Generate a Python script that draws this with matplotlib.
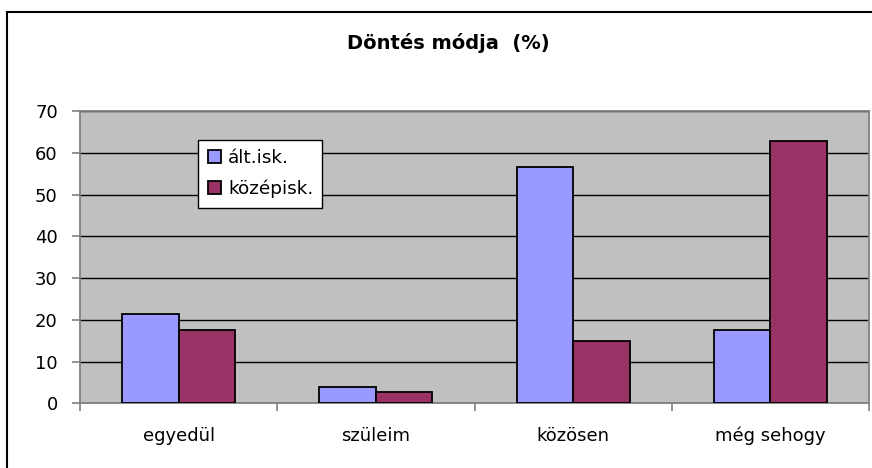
import matplotlib.pyplot as plt
import numpy as np
from matplotlib.patches import Rectangle

# Data
categories = ["egyedül", "szüleim", "közösen", "még sehogy"]
series_names = ["ált.isk.", "középisk."]
alt_isk = [21.5, 4.0, 56.7, 17.6]
kozepisk = [17.6, 2.6, 15.0, 62.9]
colors = ["#9999FF", "#993366"]

plt.rcParams['font.family'] = ['DejaVu Sans']

fig = plt.figure(figsize=(8.72, 4.68), dpi=100)
ax = fig.add_axes([80 / 872, 1 - 403.3 / 468, 789 / 872, 292.3 / 468])

# outer chart frame (only top and left edges are visible in the picture)
fig.patches.append(Rectangle((7 / 872, -0.5), 2, 0.5 + (468 - 12) / 468,
                             transform=fig.transFigure, fill=False,
                             edgecolor='black', linewidth=1.5))

x = np.arange(len(categories))
w = 0.286
ax.bar(x - w / 2, alt_isk, w, color=colors[0], edgecolor='black',
       linewidth=1.3, label=series_names[0], zorder=3)
ax.bar(x + w / 2, kozepisk, w, color=colors[1], edgecolor='black',
       linewidth=1.3, label=series_names[1], zorder=3)

ax.set_facecolor('#C0C0C0')
ax.set_xlim(-0.5, len(categories) - 0.5)
ax.set_ylim(0, 70)
ax.set_yticks(range(0, 71, 10))
ax.yaxis.grid(True, color='black', linewidth=1.0, zorder=1)
ax.set_axisbelow(True)

for s in ax.spines.values():
    s.set_color('#808080')
    s.set_linewidth(1.3)

ax.set_xticks(x)
ax.set_xticklabels(categories)
ax.set_xticks(np.arange(-0.5, len(categories), 1), minor=True)
ax.tick_params(axis='x', which='major', length=0, pad=17, labelsize=13)
ax.tick_params(axis='x', which='minor', length=6, width=1.2, color='#808080')
ax.tick_params(axis='y', length=6, width=1.2, color='#808080', pad=10, labelsize=13)

fig.text(448 / 872, 1 - 43 / 468, "Döntés módja  (%)", ha='center', va='center',
         fontsize=14, fontweight='bold')

leg = ax.legend(loc='upper left', bbox_to_anchor=(0.15, 0.902), borderaxespad=0,
                fontsize=13.3, fancybox=False, framealpha=1, edgecolor='black',
                handlelength=0.7, handleheight=0.7, handletextpad=0.4,
                labelspacing=0.7, borderpad=0.5)
leg.get_frame().set_linewidth(1.0)

fig.savefig('out.png', dpi=100)
